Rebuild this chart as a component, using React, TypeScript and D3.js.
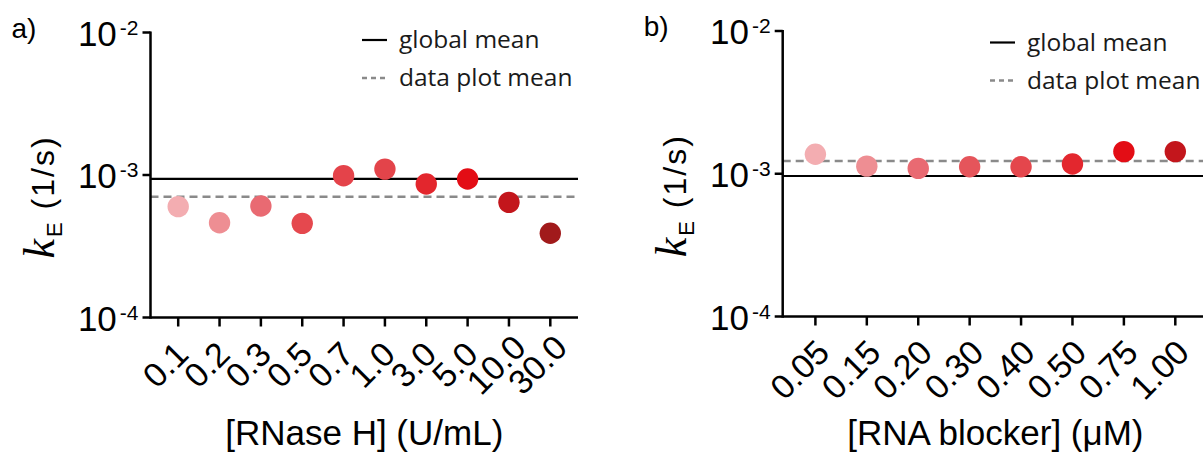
import * as d3 from "d3";
import React from "react";

// panel a: RNase H titration
const rnaseLabels = ["0.1", "0.2", "0.3", "0.5", "0.7", "1.0", "3.0", "5.0", "10.0", "30.0"];
const rnaseValues = [6.0e-4, 4.62e-4, 6.06e-4, 4.58e-4, 9.89e-4, 1.1e-3, 8.65e-4, 9.38e-4, 6.43e-4, 3.9e-4];
const rnaseColors = ["#f3adb1", "#ee8e93", "#e96a72", "#e5484e", "#e4434a", "#e3444a", "#e3262d", "#e30d15", "#c3161c", "#a11a1b"];
const rnaseGlobalMean = 9.38e-4;
const rnasePlotMean = 7.05e-4;

// panel b: RNA blocker titration
const blockerLabels = ["0.05", "0.15", "0.20", "0.30", "0.40", "0.50", "0.75", "1.00"];
const blockerValues = [1.37e-3, 1.13e-3, 1.09e-3, 1.12e-3, 1.12e-3, 1.17e-3, 1.43e-3, 1.43e-3];
const blockerColors = ["#f3adb1", "#ee8e93", "#e96a72", "#e5555b", "#e4464c", "#e3272e", "#e30d15", "#c3161c"];
const blockerGlobalMean = 9.64e-4;
const blockerPlotMean = 1.23e-3;

const yTicks = [1e-2, 1e-3, 1e-4];
const yTickExps = ["-2", "-3", "-4"];
const legendNames = ["global mean", "data plot mean"];

const sans = "'Liberation Sans', Arial, sans-serif";

type PanelProps = {
  tag: string;
  left: number;
  right: number;
  top: number;
  bottom: number;
  pad: number;
  labels: string[];
  values: number[];
  colors: string[];
  globalMean: number;
  plotMean: number;
  xTitle: string;
  legendX: number;
  legendY: number;
  labelDx: number;
  labelDy: number;
};

function Panel(p: PanelProps) {
  const x = d3.scalePoint<string>().domain(p.labels).range([p.left, p.right]).padding(p.pad);
  const y = d3.scaleLog().domain([1e-4, 1e-2]).range([p.bottom, p.top]);
  const cx = (p.left + p.right) / 2;

  return (
    <g>
      <text x={p.left - 139} y={p.top + 5} fontFamily={sans} fontSize={28}>{p.tag}</text>

      {/* y title */}
      <text transform={`translate(${p.left - 97},${(p.top + p.bottom) / 2 + 22}) rotate(-90)`} textAnchor="middle" fontFamily={sans} fontSize={32} letterSpacing={2}>
        <tspan fontFamily="'Liberation Serif', serif" fontStyle="italic" fontSize={44}>k</tspan>
        <tspan fontSize={22} dy={8}>E</tspan>
        <tspan dy={-8}> (1/s)</tspan>
      </text>

      {/* y ticks */}
      {yTicks.map((t, i) => (
        <g key={i}>
          <line x1={p.left - 8} x2={p.left} y1={y(t)} y2={y(t)} stroke="#000" strokeWidth={2.5} />
          <text x={p.left - 12} y={y(t) + 13} textAnchor="end" fontFamily={sans} fontSize={35}>
            10<tspan fontSize={21} dx={3} dy={-11}>{yTickExps[i]}</tspan>
          </text>
        </g>
      ))}

      {/* mean lines */}
      <line x1={p.left} x2={p.right} y1={y(p.plotMean)} y2={y(p.plotMean)} stroke="#8a8a8a" strokeWidth={2.5} strokeDasharray="8 5" />
      <line x1={p.left} x2={p.right} y1={y(p.globalMean)} y2={y(p.globalMean)} stroke="#000" strokeWidth={2.2} />

      {/* axes */}
      <line x1={p.left} x2={p.left} y1={p.top - 1} y2={p.bottom + 1.25} stroke="#000" strokeWidth={2.5} />
      <line x1={p.left} x2={p.right} y1={p.bottom} y2={p.bottom} stroke="#000" strokeWidth={2.5} />

      {/* x ticks and labels */}
      {p.labels.map((l) => (
        <g key={l}>
          <line x1={x(l)} x2={x(l)} y1={p.bottom} y2={p.bottom + 9} stroke="#000" strokeWidth={2.5} />
          <text transform={`translate(${(x(l) as number) + p.labelDx},${p.bottom + p.labelDy}) rotate(-45)`} textAnchor="middle" dominantBaseline="central" fontFamily={sans} fontSize={34}>{l}</text>
        </g>
      ))}

      {/* points */}
      {p.values.map((v, i) => (
        <circle key={i} cx={x(p.labels[i])} cy={y(v)} r={10.7} fill={p.colors[i]} />
      ))}

      {/* legend */}
      <line x1={p.legendX} x2={p.legendX + 25} y1={p.legendY} y2={p.legendY} stroke="#000" strokeWidth={2.2} />
      <text x={p.legendX + 37} y={p.legendY + 8} fontFamily="'Open Sans', sans-serif" fontSize={24.5} fill="#1a1a1a">{legendNames[0]}</text>
      <line x1={p.legendX} x2={p.legendX + 25} y1={p.legendY + 38} y2={p.legendY + 38} stroke="#8a8a8a" strokeWidth={2.5} strokeDasharray="5 4" />
      <text x={p.legendX + 37} y={p.legendY + 46} fontFamily="'Open Sans', sans-serif" fontSize={24.5} fill="#1a1a1a">{legendNames[1]}</text>

      {/* x title */}
      <text x={cx} y={445} textAnchor="middle" fontFamily={sans} fontSize={35}>{p.xTitle}</text>
    </g>
  );
}

export default function App() {
  return (
    <div>
      <style>{"body{margin:0}"}</style>
      <svg width={1203} height={454} style={{ display: "block", background: "#fff" }}>
        <Panel tag="a)" left={150.5} right={578} top={32.5} bottom={317.5} pad={0.67}
          labels={rnaseLabels} values={rnaseValues} colors={rnaseColors}
          globalMean={rnaseGlobalMean} plotMean={rnasePlotMean}
          xTitle="[RNase H] (U/mL)" legendX={362} legendY={40} labelDx={-13} labelDy={47} />
        <Panel tag="b)" left={782.7} right={1208} top={31} bottom={316.5} pad={0.636}
          labels={blockerLabels} values={blockerValues} colors={blockerColors}
          globalMean={blockerGlobalMean} plotMean={blockerPlotMean}
          xTitle="[RNA blocker] (μM)" legendX={990} legendY={42.5} labelDx={-16} labelDy={53} />
      </svg>
    </div>
  );
}
